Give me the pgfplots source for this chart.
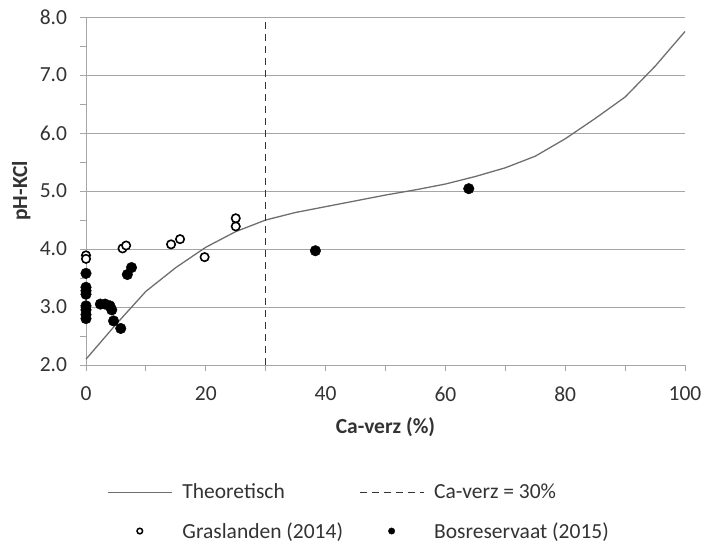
\documentclass[border=0pt]{standalone}
\usepackage{pgfplots}
\pgfplotsset{compat=1.18}
\usepackage{fontspec}
\setmainfont{Carlito}
\definecolor{txt}{HTML}{333333}
\definecolor{gridc}{HTML}{A6A6A6}
\definecolor{curve}{HTML}{6E6E6E}
\begin{document}
\begin{tikzpicture}
\useasboundingbox (0bp,0bp) rectangle (703bp,544bp);
\begin{axis}[
  at={(86bp,179bp)}, anchor=south west,
  scale only axis, width=599bp, height=348bp,
  xmin=0, xmax=100, ymin=2, ymax=8,
  xtick={0,20,...,100}, minor xtick={10,30,...,90},
  ytick={2,3,...,8}, minor ytick={2.5,3.5,...,7.5},
  ymajorgrids, major grid style={gridc, line width=0.9pt},
  axis x line*=bottom, axis y line*=left,
  axis line style={gridc, line width=0.9pt, -},
  tick style={gridc, line width=0.9pt},
  tick align=outside, major tick length=6bp, minor tick length=6bp,
  every tick label/.append style={text=txt, font=\fontsize{21.5bp}{25bp}\selectfont},
  /pgf/number format/assume math mode=true,
  yticklabel style={xshift=-9.5bp, /pgf/number format/.cd, fixed, fixed zerofill, precision=1},
  xticklabel style={yshift=-12bp, /pgf/number format/.cd, fixed, precision=0},
  xlabel={\textbf{Ca-verz (\%)}}, ylabel={\textbf{pH-KCl}},
  label style={text=txt, font=\fontsize{21.5bp}{25bp}\selectfont},
  xlabel style={at={(axis description cs:0.5,-0.178)}, anchor=center},
  ylabel style={at={(axis description cs:-0.108,0.5)}, anchor=center},
  legend columns=2,
  legend style={draw=none, at={(0.03,-0.33)}, anchor=north west,
    font=\fontsize{21.5bp}{25bp}\selectfont, text=txt,
    row sep=18bp,
    /tikz/every odd column/.append style={column sep=8bp},
    /tikz/every even column/.append style={column sep=14bp}},
  legend cell align=left,
  legend image code/.code={\draw[mark repeat=2,mark phase=2,#1] plot coordinates {(0bp,0bp)(32bp,0bp)(64bp,0bp)};},
  clip=false,
]
\addplot[curve, line width=1.3pt] coordinates {
(0,2.1)(5,2.7)(10,3.27)(15,3.68)(20,4.03)(25,4.3)(30,4.5)(35,4.63)(40,4.73)
(45,4.83)(50,4.93)(55,5.02)(60,5.12)(65,5.25)(70,5.4)(75,5.6)(80,5.9)
(85,6.25)(90,6.62)(95,7.15)(100,7.75)};
\addlegendentry{Theoretisch}
\addplot[txt, line width=1.1pt, dash pattern=on 7bp off 5bp] coordinates {(30,2)(30,7.98)};
\addlegendentry{Ca-verz = 30\%}
\addplot[only marks, mark=*, mark size=4.2bp, draw=black, fill=white, line width=1.6pt,
  legend image post style={mark size=2.8bp, line width=1.5pt}] coordinates {
(0,3.89)(0,3.83)(6.1,4.01)(6.7,4.06)(14.2,4.08)(15.7,4.17)(19.8,3.86)(25,4.39)(25,4.53)};
\addlegendentry{Graslanden (2014)}
\addplot[only marks, mark=*, mark size=5.3bp, draw=black, fill=black,
  legend image post style={mark size=3.2bp}] coordinates {
(0,3.58)(0,3.34)(0,3.28)(0,3.22)(0,3.02)(0,2.95)(0,2.87)(0,2.8)
(2.4,3.05)(3.2,3.05)(4.0,3.02)(4.3,2.95)(4.6,2.76)(5.8,2.63)
(6.9,3.56)(7.6,3.68)(38.3,3.97)(63.9,5.04)};
\addlegendentry{Bosreservaat (2015)}
\end{axis}
\end{tikzpicture}
\end{document}
